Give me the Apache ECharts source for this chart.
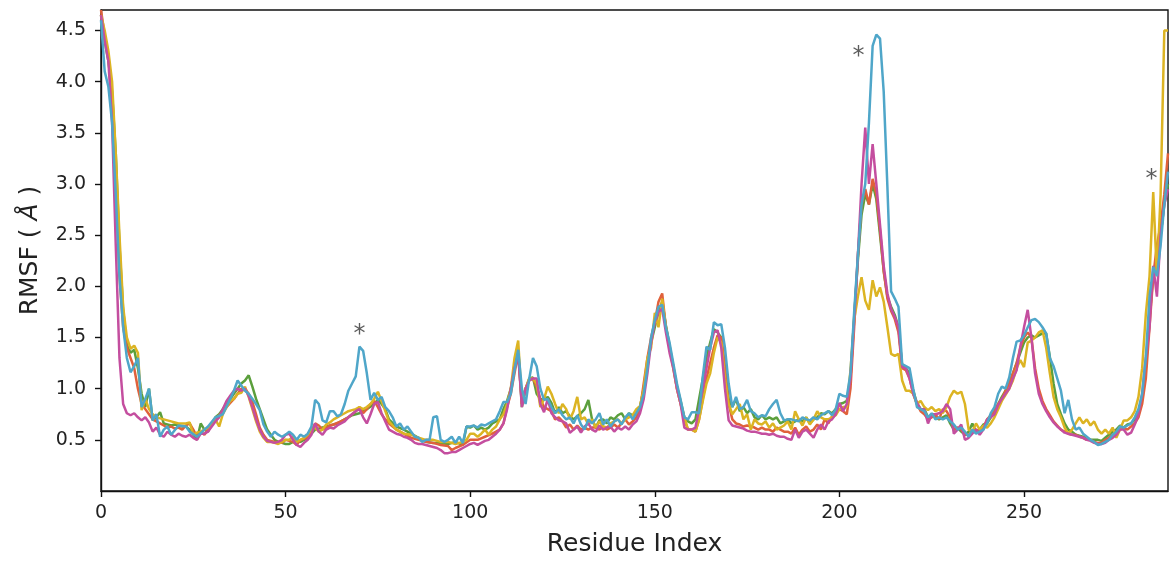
<!DOCTYPE html>
<html><head><meta charset="utf-8">
<script src="https://cdn.jsdelivr.net/npm/echarts@6/dist/echarts.min.js"></script>
<style>html,body{margin:0;padding:0;background:#fff}#c{width:1172px;height:562px}</style>
</head><body><div id="c"></div>
<script>
// ---- data: [residue index, RMSF (Å)] ----
const blueData = [[0,4.6],[1,4.1],[2,3.95],[3,3.6],[4,2.9],[5,2.1],[6,1.6],[7,1.3],[8,1.16],[9,1.22],[10,1.3],[11,0.82],[12,0.9],[13,1.0],[14,0.69],[15,0.75],[16,0.53],[17,0.6],[18,0.63],[19,0.55],[21,0.64],[23,0.63],[24,0.58],[26,0.53],[28,0.6],[29,0.63],[31,0.72],[33,0.75],[35,0.9],[36,0.98],[37,1.08],[38,1.03],[39,0.98],[40,0.95],[42,0.85],[43,0.79],[44,0.65],[45,0.58],[46,0.53],[47,0.58],[48,0.55],[49,0.53],[50,0.55],
[51,0.58],[52,0.55],[53,0.5],[54,0.55],[55,0.53],[56,0.56],[57,0.63],[58,0.89],[59,0.85],[60,0.69],[61,0.67],[62,0.78],[63,0.78],[64,0.73],[65,0.75],[66,0.85],[67,0.98],[68,1.05],[69,1.12],[70,1.41],[71,1.37],[72,1.15],[73,0.89],[74,0.96],[75,0.89],[76,0.92],[77,0.82],[78,0.78],[79,0.72],[80,0.63],[81,0.66],[82,0.6],[83,0.63],[84,0.58],[85,0.53],[86,0.52],[87,0.48],[88,0.5],[89,0.5],[90,0.72],[91,0.73],[92,0.5],[93,0.48],[94,0.5],[95,0.53],[96,0.47],[97,0.53],[98,0.47],[99,0.63],[100,0.63],
[101,0.64],[102,0.62],[103,0.65],[104,0.64],[105,0.66],[106,0.68],[107,0.7],[108,0.78],[109,0.87],[110,0.87],[111,0.95],[112,1.18],[113,1.38],[114,1.0],[115,0.85],[116,1.1],[117,1.3],[118,1.22],[119,1.0],[120,0.89],[121,0.9],[122,0.82],[123,0.76],[124,0.8],[125,0.74],[126,0.7],[127,0.72],[128,0.66],[129,0.74],[130,0.65],[131,0.6],[132,0.7],[133,0.66],[134,0.7],[135,0.76],[136,0.65],[137,0.7],[138,0.63],[139,0.68],[140,0.7],[141,0.65],[142,0.72],[143,0.76],[144,0.7],[145,0.76],[146,0.82],[147,0.95],[148,1.2],[149,1.5],[150,1.67],[151,1.8],[152,1.82],
[153,1.6],[154,1.45],[155,1.25],[156,1.05],[157,0.89],[158,0.72],[159,0.7],[160,0.77],[161,0.77],[162,0.76],[163,1.12],[164,1.41],[165,1.38],[166,1.65],[167,1.62],[168,1.63],[169,1.4],[170,1.05],[171,0.82],[172,0.92],[173,0.8],[174,0.82],[175,0.89],[176,0.78],[177,0.76],[178,0.72],[179,0.74],[180,0.73],[181,0.8],[182,0.85],[183,0.89],[184,0.76],[185,0.69],[186,0.7],[187,0.7],[188,0.69],[189,0.68],[190,0.72],[191,0.7],[192,0.69],[193,0.72],[194,0.7],[195,0.74],[196,0.76],[197,0.78],[198,0.74],[199,0.8],[200,0.95],[201,0.93],[202,0.92],[203,1.15],[204,1.75],[205,2.3],[206,2.8],[207,3.0],[208,3.6],[209,4.35],[210,4.46],[211,4.42],[212,3.9],[213,2.97],[214,1.95],[215,1.88],[216,1.8],[217,1.24],[218,1.22],[219,1.2],[220,1.0],[221,0.82],[222,0.8],[223,0.78],[224,0.72],[225,0.76],[226,0.7],[227,0.72],[228,0.7],[229,0.72],[230,0.68],[231,0.65],[232,0.6],[233,0.62],[234,0.58],[235,0.53],[236,0.6],[237,0.56],[238,0.58],[239,0.6],[240,0.66],[241,0.76],[242,0.82],[243,0.95],[244,1.02],[245,1.0],[246,1.11],[247,1.3],[248,1.46],[249,1.47],[250,1.52],[251,1.6],[252,1.67],[253,1.68],[254,1.65],[255,1.6],[256,1.54],[257,1.3],[258,1.22],[259,1.1],[260,0.98],[261,0.76],[262,0.89],[263,0.7],[264,0.6],[265,0.62],[266,0.56],[267,0.53],[268,0.5],[269,0.48],[270,0.45],[271,0.46],[272,0.48],[273,0.5],[274,0.55],[275,0.58],[276,0.63],[277,0.62],[278,0.64],[279,0.66],[280,0.72],[281,0.8],[282,0.95],[283,1.31],[284,1.9],[285,2.19],[286,2.1],[287,2.4],[288,2.8],[289,3.12]];

const redData = [[0,4.7],[1,4.45],[2,4.25],[3,3.8],[4,3.0],[5,2.1],[6,1.6],[7,1.4],[8,1.3],[9,1.2],[10,1.0],[11,0.85],[12,0.8],[13,0.75],[14,0.7],[15,0.68],[16,0.66],[17,0.64],[18,0.62],[19,0.63],[20,0.61],[21,0.62],[22,0.6],[23,0.64],[24,0.66],[25,0.6],[26,0.53],[27,0.58],[28,0.55],[29,0.6],[30,0.65],[31,0.7],[32,0.74],[33,0.78],[34,0.82],[35,0.86],[36,0.9],[37,0.95],[38,1.0],[39,1.0],[40,0.95],[41,0.87],[42,0.75],[43,0.62],[44,0.55],[45,0.5],[46,0.49],[47,0.48],[48,0.48],[49,0.47],[50,0.5],
[52,0.48],[53,0.45],[54,0.5],[56,0.52],[58,0.66],[59,0.64],[60,0.6],[62,0.64],[63,0.65],[65,0.68],[67,0.72],[68,0.75],[69,0.78],[70,0.82],[71,0.76],[72,0.8],[73,0.85],[74,0.88],[75,0.82],[76,0.75],[77,0.7],[78,0.66],[80,0.6],[82,0.56],[84,0.52],[86,0.5],[88,0.48],[90,0.47],[92,0.45],[94,0.44],[95,0.4],[96,0.42],[98,0.45],[100,0.5],
[102,0.5],[104,0.53],[106,0.56],[108,0.6],[109,0.66],[110,0.82],[111,0.95],[112,1.15],[113,1.34],[114,0.85],[115,1.0],[116,1.08],[117,1.1],[118,1.02],[119,0.9],[120,0.82],[121,0.8],[122,0.78],[123,0.7],[124,0.72],[125,0.68],[126,0.62],[127,0.65],[128,0.6],[129,0.64],[130,0.6],[131,0.62],[132,0.6],[133,0.62],[134,0.62],[135,0.6],[136,0.63],[137,0.6],[138,0.62],[139,0.65],[140,0.62],[141,0.66],[142,0.7],[143,0.65],[144,0.68],[145,0.72],[146,0.8],[147,1.05],[148,1.3],[149,1.5],[150,1.65],[151,1.85],[152,1.93],
[153,1.6],[154,1.4],[155,1.22],[156,1.0],[157,0.85],[158,0.7],[159,0.6],[160,0.6],[161,0.58],[162,0.7],[163,0.9],[164,1.1],[165,1.25],[166,1.4],[167,1.52],[168,1.5],[169,1.2],[170,0.85],[171,0.7],[172,0.66],[173,0.65],[174,0.63],[175,0.64],[176,0.63],[177,0.62],[178,0.6],[179,0.62],[180,0.6],[181,0.6],[182,0.58],[183,0.62],[184,0.6],[185,0.58],[186,0.58],[187,0.56],[188,0.62],[189,0.55],[190,0.6],[191,0.63],[192,0.58],[193,0.6],[194,0.65],[195,0.6],[196,0.7],[197,0.66],[198,0.73],[199,0.76],[200,0.8],[201,0.78],[202,0.75],[203,1.0],[204,1.6],[205,2.3],[206,2.8],[207,2.95],[208,2.8],[209,3.05],[210,2.9],[211,2.55],[212,2.15],[213,1.88],[214,1.76],[215,1.68],[216,1.55],[217,1.2],[218,1.18],[219,1.1],[220,0.95],[221,0.85],[222,0.78],[223,0.75],[224,0.7],[225,0.72],[226,0.75],[227,0.7],[228,0.8],[229,0.78],[230,0.72],[231,0.6],[232,0.62],[233,0.6],[234,0.55],[235,0.55],[236,0.58],[237,0.6],[238,0.58],[239,0.62],[240,0.7],[241,0.74],[242,0.78],[243,0.85],[244,0.9],[245,0.98],[246,1.05],[247,1.15],[248,1.25],[249,1.4],[250,1.5],[251,1.55],[252,1.5],[253,1.2],[254,1.0],[255,0.88],[256,0.8],[257,0.74],[258,0.68],[259,0.64],[260,0.6],[261,0.58],[262,0.56],[263,0.55],[264,0.55],[265,0.53],[266,0.52],[267,0.5],[268,0.5],[269,0.48],[270,0.47],[271,0.47],[272,0.5],[273,0.52],[274,0.55],[275,0.58],[276,0.6],[277,0.62],[278,0.6],[279,0.63],[280,0.66],[281,0.72],[282,0.85],[283,1.1],[284,1.6],[285,2.1],[286,2.4],[287,2.6],[288,2.9],[289,3.3]];

const yellowData = [[0,4.65],[1,4.5],[2,4.3],[3,4.0],[4,3.3],[5,2.5],[6,1.8],[7,1.5],[8,1.39],[9,1.42],[10,1.35],[11,0.79],[12,0.9],[13,0.8],[14,0.75],[15,0.72],[16,0.71],[17,0.7],[18,0.69],[19,0.68],[20,0.67],[21,0.66],[22,0.66],[23,0.66],[24,0.67],[25,0.55],[26,0.57],[27,0.58],[28,0.6],[29,0.62],[30,0.64],[31,0.7],[32,0.63],[33,0.75],[34,0.82],[35,0.88],[36,0.9],[37,0.95],[38,0.96],[39,1.02],[40,0.92],[41,0.8],[42,0.68],[43,0.58],[44,0.52],[45,0.48],[46,0.48],[47,0.47],[48,0.46],[49,0.48],[50,0.5],
[51,0.5],[52,0.53],[53,0.48],[54,0.5],[55,0.52],[56,0.55],[57,0.6],[58,0.62],[59,0.58],[60,0.6],[61,0.65],[62,0.67],[63,0.7],[64,0.72],[65,0.74],[66,0.76],[67,0.78],[68,0.79],[69,0.8],[70,0.82],[71,0.8],[72,0.82],[73,0.85],[74,0.9],[75,0.97],[76,0.88],[77,0.78],[78,0.68],[79,0.64],[80,0.6],[82,0.56],[84,0.55],[86,0.52],[88,0.5],[90,0.5],[92,0.48],[94,0.48],[96,0.46],[98,0.48],[99,0.5],[100,0.56],
[101,0.56],[102,0.53],[103,0.56],[104,0.6],[105,0.55],[106,0.6],[107,0.63],[108,0.7],[109,0.75],[110,0.85],[111,1.0],[112,1.3],[113,1.47],[114,0.85],[115,1.0],[116,1.1],[117,1.1],[118,1.05],[119,0.82],[120,0.9],[121,1.02],[122,0.95],[123,0.85],[124,0.76],[125,0.85],[126,0.8],[127,0.7],[128,0.78],[129,0.92],[130,0.7],[131,0.72],[132,0.65],[133,0.7],[134,0.62],[135,0.68],[136,0.63],[137,0.62],[138,0.66],[139,0.68],[140,0.7],[141,0.66],[142,0.7],[143,0.72],[144,0.74],[145,0.8],[146,0.83],[147,1.0],[148,1.3],[149,1.4],[150,1.74],[151,1.6],[152,1.88],
[153,1.6],[154,1.4],[155,1.2],[156,1.0],[157,0.85],[158,0.72],[159,0.6],[160,0.6],[161,0.58],[162,0.7],[163,0.88],[164,1.05],[165,1.15],[166,1.35],[167,1.5],[168,1.45],[169,1.1],[170,0.85],[171,0.75],[172,0.8],[173,0.85],[174,0.7],[175,0.75],[176,0.6],[177,0.7],[178,0.66],[179,0.65],[180,0.68],[181,0.62],[182,0.66],[183,0.6],[184,0.62],[185,0.64],[186,0.68],[187,0.6],[188,0.78],[189,0.7],[190,0.64],[191,0.72],[192,0.65],[193,0.7],[194,0.78],[195,0.72],[196,0.7],[197,0.7],[198,0.72],[199,0.74],[200,0.8],[201,0.82],[202,0.82],[203,1.18],[204,1.67],[205,1.9],[206,2.09],[207,1.86],[208,1.77],[209,2.06],[210,1.9],[211,1.99],[212,1.85],[213,1.6],[214,1.34],[215,1.32],[216,1.34],[217,1.08],[218,0.98],[219,0.98],[220,0.95],[221,0.85],[222,0.88],[223,0.82],[224,0.79],[225,0.82],[226,0.78],[227,0.8],[228,0.76],[229,0.82],[230,0.92],[231,0.98],[232,0.95],[233,0.97],[234,0.85],[235,0.6],[236,0.58],[237,0.66],[238,0.6],[239,0.64],[240,0.62],[241,0.66],[242,0.72],[243,0.8],[244,0.88],[245,0.94],[246,1.0],[247,1.08],[248,1.2],[249,1.28],[250,1.21],[251,1.45],[252,1.47],[253,1.5],[254,1.55],[255,1.57],[256,1.4],[257,1.15],[258,0.92],[259,0.8],[260,0.72],[261,0.62],[262,0.56],[263,0.6],[264,0.66],[265,0.72],[266,0.66],[267,0.7],[268,0.64],[269,0.68],[270,0.6],[271,0.56],[272,0.6],[273,0.56],[274,0.62],[275,0.52],[276,0.6],[277,0.69],[278,0.69],[279,0.72],[280,0.78],[281,0.92],[282,1.2],[283,1.73],[284,2.1],[285,2.92],[286,2.1],[287,2.9],[288,4.5],[289,4.5]];

const greenData = [[0,4.65],[1,4.4],[2,4.2],[3,3.9],[4,3.3],[5,2.4],[6,1.77],[7,1.43],[8,1.35],[9,1.38],[10,1.2],[11,0.95],[12,0.82],[13,1.0],[14,0.69],[15,0.72],[16,0.77],[17,0.66],[18,0.65],[19,0.64],[20,0.65],[21,0.64],[22,0.63],[23,0.63],[24,0.6],[25,0.55],[26,0.5],[27,0.66],[28,0.6],[29,0.58],[30,0.66],[31,0.72],[32,0.75],[33,0.8],[34,0.85],[35,0.9],[36,0.95],[37,1.0],[38,1.05],[39,1.08],[40,1.13],[41,1.02],[42,0.9],[43,0.8],[44,0.7],[45,0.6],[46,0.55],[47,0.5],[48,0.48],[49,0.47],[50,0.46],
[51,0.46],[52,0.48],[53,0.5],[54,0.48],[56,0.52],[58,0.6],[60,0.62],[62,0.64],[64,0.66],[66,0.7],[68,0.74],[70,0.76],[72,0.8],[74,0.85],[75,0.89],[76,0.85],[77,0.8],[78,0.7],[80,0.63],[82,0.6],[84,0.56],[86,0.52],[88,0.48],[90,0.47],[92,0.47],[94,0.46],[96,0.48],[98,0.45],[99,0.63],[100,0.62],
[101,0.64],[102,0.6],[103,0.62],[104,0.6],[105,0.62],[106,0.66],[107,0.68],[108,0.7],[109,0.8],[110,0.88],[111,1.0],[112,1.2],[113,1.38],[114,0.82],[115,1.0],[116,1.1],[117,1.11],[118,0.95],[119,0.9],[120,0.89],[121,0.92],[122,0.86],[123,0.76],[124,0.82],[125,0.76],[126,0.78],[127,0.73],[128,0.7],[129,0.73],[130,0.76],[131,0.8],[132,0.89],[133,0.7],[134,0.62],[135,0.69],[136,0.7],[137,0.66],[138,0.72],[139,0.7],[140,0.74],[141,0.76],[142,0.7],[143,0.76],[144,0.74],[145,0.75],[146,0.82],[147,1.0],[148,1.25],[149,1.45],[150,1.6],[151,1.75],[152,1.85],
[153,1.62],[154,1.42],[155,1.22],[156,1.02],[157,0.88],[158,0.72],[159,0.68],[160,0.66],[161,0.7],[162,0.9],[163,1.1],[164,1.3],[165,1.45],[166,1.58],[167,1.55],[168,1.5],[169,1.2],[170,0.9],[171,0.82],[172,0.9],[173,0.78],[174,0.82],[175,0.76],[176,0.8],[177,0.72],[178,0.7],[179,0.74],[180,0.7],[181,0.72],[182,0.7],[183,0.72],[184,0.66],[185,0.68],[186,0.7],[187,0.66],[188,0.68],[189,0.7],[190,0.68],[191,0.72],[192,0.66],[193,0.7],[194,0.72],[195,0.76],[196,0.75],[197,0.78],[198,0.76],[199,0.8],[200,0.85],[201,0.86],[202,0.88],[203,1.1],[204,1.7],[205,2.25],[206,2.7],[207,2.9],[208,2.8],[209,3.0],[210,2.85],[211,2.5],[212,2.15],[213,1.9],[214,1.8],[215,1.72],[216,1.6],[217,1.22],[218,1.2],[219,1.15],[220,0.98],[221,0.86],[222,0.8],[223,0.8],[224,0.72],[225,0.74],[226,0.72],[227,0.7],[228,0.72],[229,0.74],[230,0.66],[231,0.6],[232,0.62],[233,0.58],[234,0.55],[235,0.58],[236,0.66],[237,0.58],[238,0.6],[239,0.65],[240,0.66],[241,0.72],[242,0.78],[243,0.85],[244,0.92],[245,0.98],[246,1.05],[247,1.15],[248,1.25],[249,1.35],[250,1.45],[251,1.5],[252,1.52],[253,1.5],[254,1.52],[255,1.54],[256,1.54],[257,1.31],[258,1.05],[259,0.85],[260,0.75],[261,0.66],[262,0.6],[263,0.58],[264,0.55],[265,0.54],[266,0.53],[267,0.52],[268,0.5],[269,0.5],[270,0.5],[271,0.49],[272,0.52],[273,0.55],[274,0.58],[275,0.6],[276,0.64],[277,0.62],[278,0.65],[279,0.66],[280,0.7],[281,0.78],[282,0.9],[283,1.2],[284,1.7],[285,2.1],[286,2.3],[287,2.5],[288,2.8],[289,3.0]];

const magentaData = [[0,4.65],[1,4.4],[2,4.2],[3,3.6],[4,2.4],[5,1.3],[6,0.85],[7,0.76],[8,0.74],[9,0.76],[10,0.72],[11,0.69],[12,0.72],[13,0.67],[14,0.58],[15,0.62],[16,0.55],[17,0.53],[18,0.58],[19,0.55],[20,0.53],[21,0.56],[22,0.54],[23,0.53],[24,0.55],[25,0.52],[26,0.5],[27,0.56],[28,0.56],[29,0.58],[30,0.63],[31,0.68],[32,0.72],[33,0.8],[34,0.88],[35,0.93],[36,0.98],[37,1.0],[38,0.98],[39,1.0],[40,0.93],[41,0.82],[42,0.7],[43,0.6],[44,0.53],[45,0.49],[46,0.48],[47,0.47],[48,0.48],[49,0.5],[50,0.55],
[51,0.56],[52,0.5],[53,0.45],[54,0.43],[55,0.47],[56,0.5],[57,0.55],[58,0.66],[59,0.58],[60,0.55],[61,0.6],[62,0.62],[63,0.61],[64,0.64],[65,0.66],[66,0.68],[67,0.72],[68,0.75],[69,0.78],[70,0.8],[71,0.72],[72,0.66],[73,0.75],[74,0.85],[75,0.87],[76,0.76],[77,0.68],[78,0.6],[79,0.58],[80,0.56],[81,0.55],[82,0.53],[83,0.52],[84,0.5],[85,0.47],[86,0.46],[87,0.46],[88,0.45],[89,0.44],[90,0.43],[91,0.42],[92,0.4],[93,0.37],[94,0.37],[95,0.38],[96,0.38],[97,0.4],[98,0.42],[99,0.44],[100,0.46],
[101,0.47],[102,0.45],[103,0.47],[104,0.49],[105,0.5],[106,0.53],[107,0.56],[108,0.6],[109,0.66],[110,0.8],[111,1.0],[112,1.2],[113,1.34],[114,0.82],[115,1.0],[116,1.08],[117,1.1],[118,1.1],[119,0.85],[120,0.77],[121,0.9],[122,0.76],[123,0.72],[124,0.69],[125,0.68],[126,0.66],[127,0.57],[128,0.6],[129,0.63],[130,0.57],[131,0.63],[132,0.66],[133,0.6],[134,0.58],[135,0.64],[136,0.6],[137,0.62],[138,0.63],[139,0.58],[140,0.62],[141,0.6],[142,0.63],[143,0.6],[144,0.65],[145,0.68],[146,0.76],[147,0.9],[148,1.15],[149,1.45],[150,1.65],[151,1.75],[152,1.78],
[153,1.55],[154,1.35],[155,1.2],[156,1.0],[157,0.85],[158,0.62],[159,0.6],[160,0.6],[161,0.62],[162,0.8],[163,1.0],[164,1.2],[165,1.4],[166,1.55],[167,1.57],[168,1.4],[169,1.0],[170,0.69],[171,0.64],[172,0.63],[173,0.62],[174,0.61],[175,0.59],[176,0.58],[177,0.58],[178,0.57],[179,0.56],[180,0.56],[181,0.55],[182,0.56],[183,0.54],[184,0.53],[185,0.53],[186,0.51],[187,0.5],[188,0.6],[189,0.52],[190,0.58],[191,0.6],[192,0.56],[193,0.52],[194,0.6],[195,0.65],[196,0.6],[197,0.68],[198,0.7],[199,0.75],[200,0.86],[201,0.78],[202,0.85],[203,1.1],[204,1.67],[205,2.3],[206,3.0],[207,3.55],[208,3.0],[209,3.39],[210,3.0],[211,2.6],[212,2.2],[213,1.93],[214,1.78],[215,1.7],[216,1.6],[217,1.21],[218,1.2],[219,1.1],[220,0.95],[221,0.86],[222,0.8],[223,0.8],[224,0.66],[225,0.75],[226,0.75],[227,0.76],[228,0.78],[229,0.85],[230,0.8],[231,0.56],[232,0.6],[233,0.65],[234,0.5],[235,0.52],[236,0.56],[237,0.6],[238,0.55],[239,0.6],[240,0.7],[241,0.72],[242,0.75],[243,0.84],[244,0.9],[245,0.95],[246,1.0],[247,1.1],[248,1.18],[249,1.41],[250,1.6],[251,1.77],[252,1.5],[253,1.15],[254,0.95],[255,0.85],[256,0.78],[257,0.72],[258,0.67],[259,0.63],[260,0.6],[261,0.57],[262,0.56],[263,0.55],[264,0.54],[265,0.53],[266,0.52],[267,0.5],[268,0.49],[269,0.47],[270,0.46],[271,0.46],[272,0.47],[273,0.5],[274,0.52],[275,0.55],[276,0.6],[277,0.6],[278,0.55],[279,0.57],[280,0.65],[281,0.75],[282,0.95],[283,1.3],[284,1.6],[285,2.2],[286,1.9],[287,2.5],[288,2.8],[289,2.95]];

const starMarks = [[70, 1.59], [205.2, 4.30], [284.5, 3.10]];
const xTicks = [0, 50, 100, 150, 200, 250];
const yTicks = [0.5, 1.0, 1.5, 2.0, 2.5, 3.0, 3.5, 4.0, 4.5];

const FONT = '"DejaVu Sans", sans-serif';
const chart = echarts.init(document.getElementById('c'), null, {renderer: 'canvas'});

function line(name, data, color) {
  return {name, type: 'line', data, symbol: 'none', showSymbol: false,
    lineStyle: {color, width: 2.5}, itemStyle: {color}, animation: false, clip: true};
}

chart.setOption({
  animation: false,
  backgroundColor: '#fff',
  grid: {left: 101, right: 4, top: 10, bottom: 70, show: true, borderColor: '#111', borderWidth: 1.4, backgroundColor: 'transparent'},
  xAxis: {
    type: 'value', min: 0, max: 289,
    name: 'Residue Index', nameLocation: 'middle', nameGap: 41,
    nameTextStyle: {fontFamily: FONT, fontSize: 25, color: '#222'},
    axisLine: {show: true, onZero: false, lineStyle: {color: '#111', width: 1.4}},
    axisTick: {show: true, length: 6, lineStyle: {color: '#111', width: 1.4}, customValues: xTicks},
    axisLabel: {fontFamily: FONT, fontSize: 19, color: '#222', margin: 13, customValues: xTicks},
    splitLine: {show: false}
  },
  yAxis: {
    type: 'value', min: 0, max: 4.7,
    name: 'RMSF ( {a|Å} )', nameLocation: 'middle', nameGap: 58, nameRotate: 90,
    nameTextStyle: {fontFamily: FONT, fontSize: 25, color: '#222',
      rich: {a: {fontFamily: FONT, fontSize: 25, fontStyle: 'italic', color: '#222'}}},
    axisLine: {show: true, onZero: false, lineStyle: {color: '#111', width: 1.4}},
    axisTick: {show: true, length: 6, lineStyle: {color: '#111', width: 1.4}, customValues: yTicks},
    axisLabel: {fontFamily: FONT, fontSize: 19, color: '#222', margin: 15, customValues: yTicks,
      formatter: v => v.toFixed(1)},
    splitLine: {show: false}
  },
  series: [
    line('green', greenData, '#5b9f3c'),
    line('red', redData, '#e0613b'),
    line('yellow', yellowData, '#dcb423'),
    line('magenta', magentaData, '#c44e9f'),
    line('blue', blueData, '#4fa6c9'),
    {type: 'scatter', data: starMarks, symbolSize: 0, silent: true, z: 10,
     label: {show: true, position: 'inside', formatter: '*', fontFamily: FONT, fontSize: 24, color: '#333', offset: [0, 6]}}
  ]
});
</script></body></html>
